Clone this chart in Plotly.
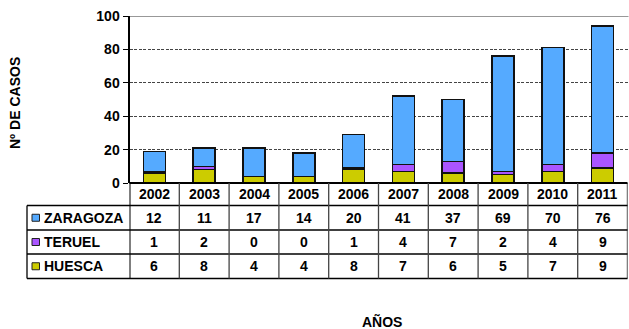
import plotly.graph_objects as go

# Casos por provincia y año
years = ["2002", "2003", "2004", "2005", "2006", "2007", "2008", "2009", "2010", "2011"]
zaragoza = [12, 11, 17, 14, 20, 41, 37, 69, 70, 76]
teruel = [1, 2, 0, 0, 1, 4, 7, 2, 4, 9]
huesca = [6, 8, 4, 4, 8, 7, 6, 5, 7, 9]

series = [  # orden de apilado: de abajo arriba
    ("HUESCA", huesca, "#CCCC00"),
    ("TERUEL", teruel, "#AA55FF"),
    ("ZARAGOZA", zaragoza, "#55AAFF"),
]
table_rows = [("ZARAGOZA", zaragoza, "#55AAFF"),
              ("TERUEL", teruel, "#AA55FF"),
              ("HUESCA", huesca, "#CCCC00")]

W, H = 629, 329
FONT = "Liberation Sans, Arial, sans-serif"


def fx(p):
    return p / W


def fy(p):
    return 1 - p / H


# límites del área de trazado (px)
X_LEFT, X_RIGHT = 129.5, 627.5
Y_TOP, Y_ZERO = 16, 183
# filas de la tabla de datos (px)
ROW_LINES = [183, 205.5, 230, 254, 278.5]
TABLE_LEFT = 27

fig = go.Figure()
for name, vals, color in series:
    fig.add_trace(go.Bar(
        x=years, y=vals, name=name,
        marker=dict(color=color, line=dict(color="#111111", width=1.5)),
        showlegend=False,
    ))

shapes = []
# línea superior sólida a 100
shapes.append(dict(type="line", xref="paper", yref="y", x0=fx(X_LEFT), x1=fx(X_RIGHT + 1),
                   y0=100, y1=100, line=dict(color="#333333", width=1)))
# líneas horizontales de la tabla
for i, yp in enumerate(ROW_LINES):
    x0 = fx(X_LEFT) if i == 0 else fx(TABLE_LEFT)
    shapes.append(dict(type="line", xref="paper", yref="paper", x0=x0, x1=fx(X_RIGHT),
                       y0=fy(yp), y1=fy(yp),
                       line=dict(color="#000000", width=2 if i == 0 else 1.3)))
# separadores verticales entre columnas de años
for k in range(len(years) + 1):
    shapes.append(dict(type="line", xref="x", yref="paper", x0=k - 0.5, x1=k - 0.5,
                       y0=fy(ROW_LINES[0]), y1=fy(ROW_LINES[-1]),
                       line=dict(color="#000000" if k in (0, len(years)) else "#444444",
                                 width=2 if k == 0 else 1.3)))
# borde izquierdo de la columna de etiquetas
shapes.append(dict(type="line", xref="paper", yref="paper", x0=fx(TABLE_LEFT), x1=fx(TABLE_LEFT),
                   y0=fy(ROW_LINES[1]), y1=fy(ROW_LINES[-1]), line=dict(color="#000000", width=1.3)))

annotations = []
# cabecera con los años
hdr_c = (ROW_LINES[0] + ROW_LINES[1]) / 2
for i, yr in enumerate(years):
    annotations.append(dict(x=i, y=fy(hdr_c), xref="x", yref="paper", text=yr, showarrow=False,
                            font=dict(family=FONT, size=14, color="#000000", weight="bold"),
                            xanchor="center", yanchor="middle"))
# filas con valores y leyenda
for r, (name, vals, color) in enumerate(table_rows):
    yc = (ROW_LINES[r + 1] + ROW_LINES[r + 2]) / 2
    shapes.append(dict(type="rect", xref="paper", yref="paper",
                       x0=fx(32), x1=fx(39.5), y0=fy(yc - 3.5), y1=fy(yc + 3.5),
                       fillcolor=color, line=dict(color="#222222", width=1)))
    annotations.append(dict(x=fx(41.5), y=fy(yc), xref="paper", yref="paper", text=name,
                            showarrow=False, xanchor="left", yanchor="middle",
                            font=dict(family=FONT, size=14, color="#000000", weight="bold")))
    for i, v in enumerate(vals):
        annotations.append(dict(x=i, y=fy(yc), xref="x", yref="paper", text=str(v),
                                showarrow=False, xanchor="center", yanchor="middle",
                                font=dict(family=FONT, size=14, color="#000000", weight="bold")))

# títulos de ejes
annotations.append(dict(x=fx(15), y=fy(103), xref="paper", yref="paper", text="Nº DE CASOS",
                        textangle=-90, showarrow=False, xanchor="center", yanchor="middle",
                        font=dict(family=FONT, size=14, color="#000000", weight="bold")))
annotations.append(dict(x=fx(382), y=fy(321), xref="paper", yref="paper", text="AÑOS",
                        showarrow=False, xanchor="center", yanchor="middle",
                        font=dict(family=FONT, size=14, color="#000000", weight="bold")))

fig.update_layout(
    width=W, height=H,
    margin=dict(l=0, r=0, t=0, b=0, autoexpand=False),
    paper_bgcolor="white", plot_bgcolor="white",
    barmode="stack", bargap=0.56,
    xaxis=dict(type="category", domain=[fx(X_LEFT), fx(X_RIGHT)], showticklabels=False, ticks="",
               showgrid=False, zeroline=False, showline=False, fixedrange=True,
               range=[-0.5, len(years) - 0.5]),
    yaxis=dict(domain=[fy(Y_ZERO), fy(Y_TOP)], range=[0, 100], tickvals=[0, 20, 40, 60, 80, 100],
               showgrid=True, gridcolor="#444444", gridwidth=1, griddash="3px,1.5px",
               zeroline=False, showline=True, linecolor="#000000", linewidth=2,
               ticks="outside", ticklen=5, tickcolor="#000000", tickwidth=1,
               tickfont=dict(family=FONT, size=14, color="#000000", weight="bold")),
    shapes=shapes, annotations=annotations,
)

fig.write_html("out.html")
